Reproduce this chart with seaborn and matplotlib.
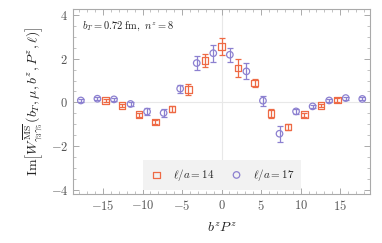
import numpy as np
import pandas as pd
import matplotlib
matplotlib.use("Agg")
import matplotlib.pyplot as plt
import seaborn as sns
from matplotlib.ticker import MultipleLocator, FuncFormatter

# ---- data ----
pz_step = 2 * np.pi * 8 / 24  # b^z P^z spacing per lattice step

bz_14 = [-7, -6, -5, -4, -3, -2, -1, 0, 1, 2, 3, 4, 5, 6, 7]
val_14 = [0.09, -0.15, -0.56, -0.90, -0.30, 0.58, 1.92, 2.55, 1.57, 0.89,
          -0.50, -1.12, -0.56, -0.15, 0.12]
err_14 = [0.08, 0.08, 0.10, 0.10, 0.12, 0.26, 0.29, 0.40, 0.40, 0.20,
          0.20, 0.15, 0.10, 0.08, 0.08]

bz_17 = [-8.5, -7.5, -6.5, -5.5, -4.5, -3.5, -2.5, -1.5, -0.5, 0.5, 1.5,
         2.5, 3.5, 4.5, 5.5, 6.5, 7.5, 8.5]
val_17 = [0.09, 0.17, 0.14, -0.07, -0.42, -0.48, 0.63, 1.80, 2.25, 2.18,
          1.42, 0.08, -1.43, -0.41, -0.18, 0.09, 0.20, 0.16]
err_17 = [0.07, 0.07, 0.07, 0.08, 0.15, 0.20, 0.18, 0.30, 0.39, 0.32,
          0.37, 0.23, 0.37, 0.10, 0.08, 0.07, 0.07, 0.07]

labels = [r"$\ell/a = 14$", r"$\ell/a = 17$"]
colors = ["#EE6A45", "#8C80D0"]
markers = ["s", "o"]

df14 = pd.DataFrame({"x": np.array(bz_14) * pz_step, "y": val_14, "e": err_14})
df17 = pd.DataFrame({"x": np.array(bz_17) * pz_step, "y": val_17, "e": err_17})

sns.set_theme(style="ticks")
plt.rcParams["mathtext.fontset"] = "cm"
plt.rcParams["font.family"] = ["DejaVu Serif"]

fig = plt.figure(figsize=(3.82, 2.43), dpi=100)
ax = fig.add_axes([0.191, 0.202, 0.778, 0.761])

ax.axhline(0, color="#e8e8e8", lw=0.8, zorder=0)
ax.axvline(0, color="#e8e8e8", lw=0.8, zorder=0)

for df, lab, col, mk in zip([df14, df17], labels, colors, markers):
    ax.errorbar(df["x"], df["y"], yerr=df["e"], fmt="none", ecolor=col,
                elinewidth=0.9, capsize=2.3, capthick=0.9, zorder=2)
    sns.scatterplot(data=df, x="x", y="y", ax=ax, marker=mk, s=22,
                    facecolor="none", edgecolor=col, color=col,
                    linewidth=0.9, label=lab, zorder=3)

ax.set_xlim(-18.8, 18.8)
ax.set_ylim(-4.18, 4.27)
ax.xaxis.set_major_locator(MultipleLocator(5))
ax.xaxis.set_minor_locator(MultipleLocator(1))
ax.yaxis.set_major_locator(MultipleLocator(2))
ax.yaxis.set_minor_locator(MultipleLocator(0.5))
fmt = FuncFormatter(lambda v, p: r"$%g$" % v)
ax.xaxis.set_major_formatter(fmt)
ax.yaxis.set_major_formatter(fmt)

for s in ax.spines.values():
    s.set_color("#aaaaaa")
    s.set_linewidth(0.8)
ax.tick_params(which="both", direction="in", top=True, right=True,
               color="#aaaaaa", labelcolor="#555555", labelsize=9)
ax.tick_params(which="major", length=4, width=0.7)
ax.tick_params(which="minor", length=2, width=0.5)

ax.set_xlabel(r"$b^z P^z$", fontsize=10, color="#222222", labelpad=6)
ax.set_ylabel(r"$\mathrm{Im}\left[W^{\overline{\mathrm{MS}}}_{\gamma_3\gamma_5}(b_T,\mu,b^z,P^z,\ell)\right]$",
              fontsize=10, color="#222222", labelpad=3)

ax.text(0.03, 0.94, r"$b_T = 0.72\ \mathrm{fm},\ n^z = 8$", transform=ax.transAxes,
        fontsize=7.5, color="#222222", va="top", ha="left")

leg = ax.legend(loc="center", bbox_to_anchor=(0.502, 0.103), ncol=2,
                frameon=True, fontsize=8, columnspacing=1.4, handletextpad=0.9,
                borderpad=0.6, handlelength=1.2)
leg.get_frame().set_facecolor("#f2f2f2")
leg.get_frame().set_edgecolor("none")
leg.get_frame().set_boxstyle("square", pad=0)
leg.get_frame().set_alpha(1)

fig.savefig("out.png", dpi=100)
